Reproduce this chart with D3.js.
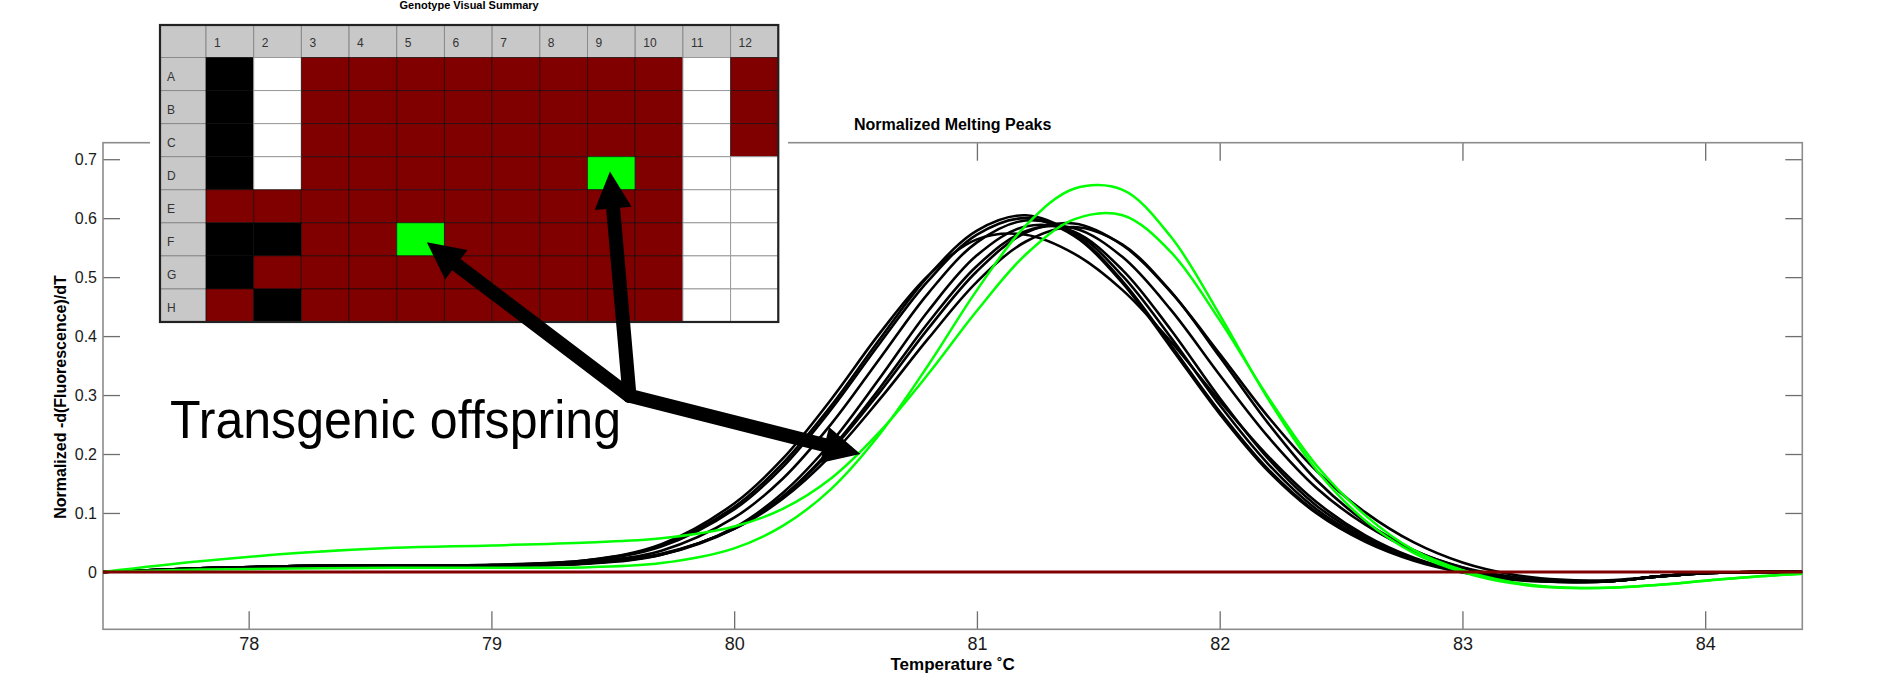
<!DOCTYPE html>
<html>
<head>
<meta charset="utf-8">
<script src="https://cdn.jsdelivr.net/npm/d3@7"></script>
<style>
  body { margin: 0; background: #fff; }
  svg { display: block; }
  text { font-family: "Liberation Sans", Arial, sans-serif; }
</style>
</head>
<body>
<svg id="chart" width="1898" height="675"></svg>
<script>
// temperature grid the curves were read on (°C)
const temps = [77.4, 77.8, 78.2, 78.6, 79.0, 79.4, 79.7, 80.0, 80.2, 80.4, 80.6, 80.8, 81.0, 81.2, 81.4,
  81.6, 81.8, 82.0, 82.2, 82.4, 82.6, 82.8, 83.0, 83.2, 83.4, 83.6, 83.8, 84.0, 84.2, 84.4]

// wild type wells (black)
const blackCurves = [
  [0, .006, .010, .011, .012, .020, .045, .110, .184, .282, .395, .502, .579, .605, .573, .493, .384, .272, .174, .101, .053, .021, .000, -.012, -.016, -.016, -.008, -.002, 0, 0],
  [0, .006, .010, .011, .011, .017, .036, .092, .158, .251, .362, .473, .559, .596, .576, .502, .397, .283, .183, .106, .056, .022, .001, -.012, -.016, -.016, -.008, -.002, 0, 0],
  [0, .006, .010, .011, .012, .020, .047, .116, .192, .293, .405, .503, .564, .572, .540, .478, .390, .290, .196, .118, .062, .024, .000, -.012, -.017, -.016, -.008, -.002, 0, 0],
  [0, .006, .010, .011, .011, .015, .030, .074, .127, .206, .305, .413, .510, .575, .591, .554, .474, .370, .263, .171, .101, .050, .016, -.004, -.013, -.014, -.008, -.002, 0, 0],
  [0, .006, .010, .011, .011, .015, .029, .073, .128, .209, .312, .423, .519, .578, .583, .534, .444, .334, .229, .142, .080, .036, .008, -.008, -.015, -.016, -.008, -.002, 0, 0],
  [0, .006, .010, .011, .011, .014, .029, .075, .134, .220, .329, .443, .537, .586, .577, .512, .410, .295, .192, .112, .059, .023, .001, -.011, -.016, -.016, -.008, -.002, 0, 0],
  [0, .006, .010, .011, .011, .016, .031, .073, .124, .198, .293, .396, .492, .560, .585, .555, .475, .365, .252, .155, .085, .037, .007, -.010, -.016, -.016, -.008, -.002, 0, 0],
  [0, .005, .009, .010, .011, .019, .043, .106, .178, .276, .388, .494, .572, .600, .570, .490, .380, .268, .171, .099, .051, .019, -.001, -.013, -.017, -.016, -.008, -.002, 0, 0],
]

// transgenic wells (green)
const greenCurves = [
  [0, .004, .006, .007, .007, .008, .015, .040, .078, .141, .234, .351, .478, .587, .650, .648, .568, .436, .293, .172, .087, .032, .000, -.019, -.027, -.027, -.022, -.015, -.008, -.003],
  [0, .018, .032, .041, .045, .050, .057, .077, .107, .159, .238, .336, .443, .538, .598, .605, .542, .427, .296, .180, .096, .037, .003, -.017, -.026, -.027, -.022, -.015, -.008, -.003],
]

// negative wells (flat)
const redCurve = [0, 0, 0, 0, 0, 0, 0, 0, 0, 0, 0, 0, 0, 0, 0, 0, 0, 0, 0, 0, 0, 0, 0, 0, 0, 0, 0, 0, 0, 0]

const xTicks = [78, 79, 80, 81, 82, 83, 84]
const yTicks = [0, 0.1, 0.2, 0.3, 0.4, 0.5, 0.6, 0.7]

// plate layout: K = black, W = white, R = red, G = green
const plateCols = ["1", "2", "3", "4", "5", "6", "7", "8", "9", "10", "11", "12"]
const plateRows = ["A", "B", "C", "D", "E", "F", "G", "H"]
const plateCalls = [
  "KWRRRRRRRRWR",
  "KWRRRRRRRRWR",
  "KWRRRRRRRRWR",
  "KWRRRRRRGRWW",
  "RRRRRRRRRRWW",
  "KKRRGRRRRRWW",
  "KRRRRRRRRRWW",
  "RKRRRRRRRRWW",
]
// wells the arrows point at [row, col]
const pointedWells = [[5, 4], [3, 8]]

const callColor = { K: "#000000", W: "#ffffff", R: "#800000", G: "#00ff00" }

const svg = d3.select("#chart")
const W = 1898
const H = 675
const plot = { left: 103, right: 1802.3, top: 142.7, bottom: 629.3 }

const x = d3.scaleLinear([77.4, 84.4], [plot.left, plot.right])
const y = d3.scaleLinear([-0.0973, 0.728], [plot.bottom, plot.top])

svg.append("rect").attr("width", W).attr("height", H).attr("fill", "#fff")

drawAxes()
drawCurves()
drawPlate()
drawAnnotation()

function drawAxes() {
  const tickColor = "#6e6e6e"

  const gx = svg
    .append("g")
    .attr("transform", `translate(0, ${plot.bottom})`)
    .call(d3.axisBottom(x).tickValues(xTicks).tickSize(-18).tickPadding(8).tickFormat(d3.format("d")))
  const gxTop = svg
    .append("g")
    .attr("transform", `translate(0, ${plot.top})`)
    .call(d3.axisTop(x).tickValues(xTicks).tickSize(-18).tickFormat(""))
  const gy = svg
    .append("g")
    .attr("transform", `translate(${plot.left}, 0)`)
    .call(d3.axisLeft(y).tickValues(yTicks).tickSize(-17).tickPadding(6).tickFormat((d) => (d === 0 ? "0" : d3.format(".1f")(d))))
  const gyRight = svg
    .append("g")
    .attr("transform", `translate(${plot.right}, 0)`)
    .call(d3.axisRight(y).tickValues(yTicks).tickSize(-17).tickFormat(""))

  ;[gx, gxTop, gy, gyRight].forEach((g) => {
    g.select(".domain").remove()
    g.selectAll(".tick line").attr("stroke", tickColor).attr("stroke-width", 1.3)
  })
  gx.selectAll(".tick text").attr("font-size", 18).attr("fill", "#1a1a1a")
  gy.selectAll(".tick text").attr("font-size", 16).attr("fill", "#1a1a1a")

  svg
    .append("rect")
    .attr("x", plot.left)
    .attr("y", plot.top)
    .attr("width", plot.right - plot.left)
    .attr("height", plot.bottom - plot.top)
    .attr("fill", "none")
    .attr("stroke", "#8c8c8c")
    .attr("stroke-width", 1.6)

  svg
    .append("text")
    .attr("x", (plot.left + plot.right) / 2)
    .attr("y", 130)
    .attr("text-anchor", "middle")
    .attr("font-size", 16)
    .attr("font-weight", "bold")
    .text("Normalized Melting Peaks")

  svg
    .append("text")
    .attr("x", (plot.left + plot.right) / 2)
    .attr("y", 670)
    .attr("text-anchor", "middle")
    .attr("font-size", 17)
    .attr("font-weight", "bold")
    .text("Temperature ˚C")

  svg
    .append("text")
    .attr("transform", `translate(66, 397) rotate(-90)`)
    .attr("text-anchor", "middle")
    .attr("font-size", 16)
    .attr("font-weight", "bold")
    .text("Normalized -d(Fluorescence)/dT")
}

function drawCurves() {
  svg
    .append("clipPath")
    .attr("id", "plot-clip")
    .append("rect")
    .attr("x", plot.left)
    .attr("y", plot.top)
    .attr("width", plot.right - plot.left)
    .attr("height", plot.bottom - plot.top)

  const line = d3
    .line()
    .x((d, i) => x(temps[i]))
    .y((d) => y(d))
    .curve(d3.curveCatmullRom.alpha(0.5))

  const g = svg.append("g").attr("clip-path", "url(#plot-clip)")

  g.selectAll("path.black")
    .data(blackCurves)
    .join("path")
    .classed("black", true)
    .attr("d", line)
    .attr("fill", "none")
    .attr("stroke", "#000")
    .attr("stroke-width", 2.6)

  g.selectAll("path.green")
    .data(greenCurves)
    .join("path")
    .classed("green", true)
    .attr("d", line)
    .attr("fill", "none")
    .attr("stroke", "#00ff00")
    .attr("stroke-width", 2.5)

  g.append("path")
    .datum(redCurve)
    .attr("d", line)
    .attr("fill", "none")
    .attr("stroke", "#800000")
    .attr("stroke-width", 3)
}

function drawPlate() {
  const box = { left: 150, top: 0, right: 788, bottom: 332 }
  const grid = { left: 160, top: 25, labelW: 46, headerH: 32.5, cellW: 47.69, cellH: 33.06 }

  const colX = d3.scaleBand(plateCols, [grid.left + grid.labelW, grid.left + grid.labelW + grid.cellW * plateCols.length])
  const rowY = d3.scaleBand(plateRows, [grid.top + grid.headerH, grid.top + grid.headerH + grid.cellH * plateRows.length])

  const g = svg.append("g").classed("plate", true)

  g.append("rect")
    .attr("x", box.left)
    .attr("y", box.top)
    .attr("width", box.right - box.left)
    .attr("height", box.bottom - box.top)
    .attr("fill", "#fff")

  g.append("text")
    .attr("x", (grid.left + colX.range()[1]) / 2)
    .attr("y", 9)
    .attr("text-anchor", "middle")
    .attr("font-size", 11)
    .attr("font-weight", "bold")
    .text("Genotype Visual Summary")

  // header cells
  g.append("rect")
    .attr("x", grid.left)
    .attr("y", grid.top)
    .attr("width", grid.labelW)
    .attr("height", grid.headerH)
    .attr("fill", "#c8c8c8")
    .attr("stroke", "#8a8a8a")

  g.selectAll("rect.col-head")
    .data(plateCols)
    .join("rect")
    .classed("col-head", true)
    .attr("x", (d) => colX(d))
    .attr("y", grid.top)
    .attr("width", colX.bandwidth())
    .attr("height", grid.headerH)
    .attr("fill", "#c8c8c8")
    .attr("stroke", "#8a8a8a")

  g.selectAll("text.col-head")
    .data(plateCols)
    .join("text")
    .classed("col-head", true)
    .attr("x", (d) => colX(d) + 8)
    .attr("y", grid.top + grid.headerH / 2 + 6)
    .attr("font-size", 12)
    .attr("fill", "#333")
    .text((d) => d)

  g.selectAll("rect.row-head")
    .data(plateRows)
    .join("rect")
    .classed("row-head", true)
    .attr("x", grid.left)
    .attr("y", (d) => rowY(d))
    .attr("width", grid.labelW)
    .attr("height", rowY.bandwidth())
    .attr("fill", "#c8c8c8")
    .attr("stroke", "#8a8a8a")

  g.selectAll("text.row-head")
    .data(plateRows)
    .join("text")
    .classed("row-head", true)
    .attr("x", grid.left + 7)
    .attr("y", (d) => rowY(d) + rowY.bandwidth() / 2 + 7)
    .attr("font-size", 12)
    .attr("fill", "#333")
    .text((d) => d)

  const wells = []
  plateCalls.forEach((row, r) => {
    row.split("").forEach((c, ci) => wells.push({ row: plateRows[r], col: plateCols[ci], call: c }))
  })

  g.selectAll("rect.well")
    .data(wells)
    .join("rect")
    .classed("well", true)
    .attr("x", (d) => colX(d.col))
    .attr("y", (d) => rowY(d.row))
    .attr("width", colX.bandwidth())
    .attr("height", rowY.bandwidth())
    .attr("fill", (d) => callColor[d.call])
    .attr("stroke", (d) => (d.call === "W" ? "#9a9a9a" : "rgba(0,0,0,0.55)"))
    .attr("stroke-width", 1)

  g.append("rect")
    .attr("x", grid.left)
    .attr("y", grid.top)
    .attr("width", colX.range()[1] - grid.left)
    .attr("height", rowY.range()[1] - grid.top)
    .attr("fill", "none")
    .attr("stroke", "#222")
    .attr("stroke-width", 2.2)

  // arrow tips inside the pointed wells
  drawPlate.tips = [
    [colX(plateCols[pointedWells[0][1]]) + colX.bandwidth() * 0.63, rowY(plateRows[pointedWells[0][0]]) + rowY.bandwidth() * 0.59],
    [colX(plateCols[pointedWells[1][1]]) + colX.bandwidth() * 0.47, rowY(plateRows[pointedWells[1][0]]) + rowY.bandwidth() * 0.45],
  ]
}

function drawAnnotation() {
  const origin = [629.5, 395.8]
  const tips = [...drawPlate.tips, [x(80.52), y(0.2)]]
  const headLen = 37
  const headHalf = 18.5
  const shaft = 14

  const g = svg.append("g").classed("arrows", true)

  tips.forEach((tip) => {
    const dx = tip[0] - origin[0]
    const dy = tip[1] - origin[1]
    const len = Math.hypot(dx, dy)
    const ux = dx / len
    const uy = dy / len
    const base = [tip[0] - ux * headLen, tip[1] - uy * headLen]

    g.append("line")
      .attr("x1", origin[0])
      .attr("y1", origin[1])
      .attr("x2", base[0] + ux * 2)
      .attr("y2", base[1] + uy * 2)
      .attr("stroke", "#000")
      .attr("stroke-width", shaft)
      .attr("stroke-linecap", "round")

    g.append("path")
      .attr(
        "d",
        d3.line()([
          tip,
          [base[0] - uy * headHalf, base[1] + ux * headHalf],
          [base[0] + uy * headHalf, base[1] - ux * headHalf],
        ]) + "Z"
      )
      .attr("fill", "#000")
  })

  svg
    .append("text")
    .attr("x", 170)
    .attr("y", 438)
    .attr("font-family", "Lato, 'Open Sans', sans-serif")
    .attr("font-size", 54)
    .attr("textLength", 451)
    .attr("lengthAdjust", "spacingAndGlyphs")
    .attr("fill", "#000")
    .text("Transgenic offspring")
}
</script>
</body>
</html>
